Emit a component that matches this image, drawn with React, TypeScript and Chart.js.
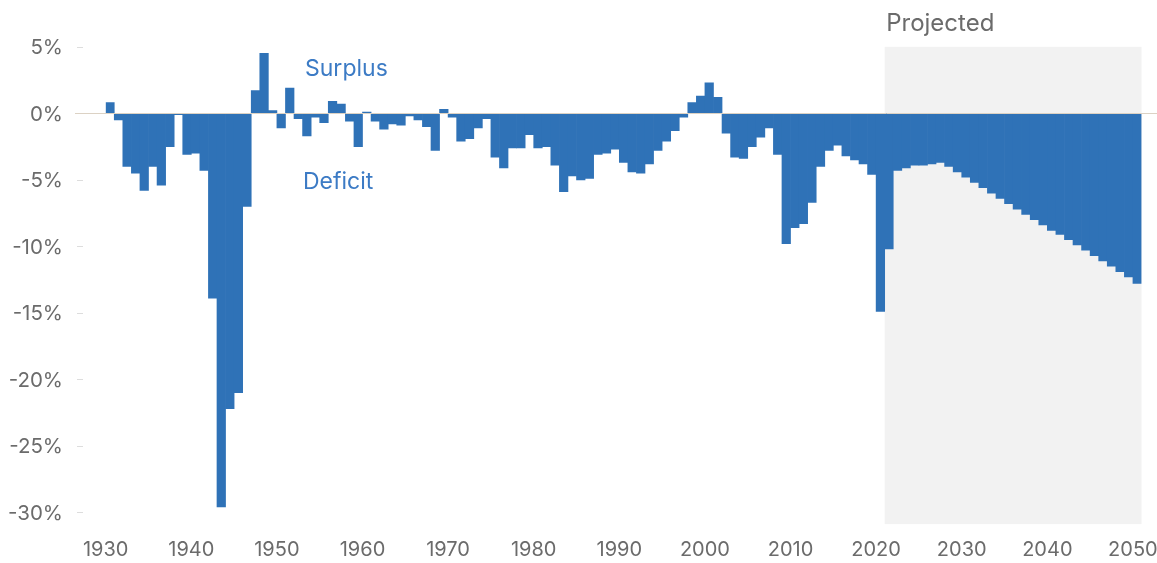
import React, { useEffect, useRef } from 'react';
import { Chart, registerables } from 'chart.js';

Chart.register(...registerables);

// Fiscal years shown as bars (1930–2050)
const firstYear = 1930;
const lastYear = 2050;
const years: number[] = [];
for (let yr = firstYear; yr <= lastYear; yr++) years.push(yr);

// Surplus (+) / deficit (-) as % of GDP, actual 1930–2020
const historical = [
  0.8, -0.5, -4.0, -4.5, -5.8, -4.0, -5.4, -2.5, -0.1, -3.1, // 1930-1939
  -3.0, -4.3, -13.9, -29.6, -22.2, -21.0, -7.0, 1.7, 4.5, 0.2, // 1940-1949
  -1.1, 1.9, -0.4, -1.7, -0.3, -0.7, 0.9, 0.7, -0.6, -2.5, // 1950-1959
  0.1, -0.6, -1.2, -0.8, -0.9, -0.2, -0.5, -1.0, -2.8, 0.3, // 1960-1969
  -0.3, -2.1, -1.9, -1.1, -0.4, -3.3, -4.1, -2.6, -2.6, -1.6, // 1970-1979
  -2.6, -2.5, -3.9, -5.9, -4.7, -5.0, -4.9, -3.1, -3.0, -2.7, // 1980-1989
  -3.7, -4.4, -4.5, -3.8, -2.8, -2.1, -1.3, -0.3, 0.8, 1.3, // 1990-1999
  2.3, 1.2, -1.5, -3.3, -3.4, -2.5, -1.8, -1.1, -3.1, -9.8, // 2000-2009
  -8.6, -8.3, -6.7, -4.0, -2.8, -2.4, -3.2, -3.5, -3.8, -4.6, // 2010-2019
  -14.9, // 2020
];

// Projected 2021–2050
const projected = [
  -10.2, -4.3, -4.1, -3.9, -3.9, -3.8, -3.7, -4.0, -4.4, // 2021-2029
  -4.8, -5.2, -5.6, -6.0, -6.4, -6.8, -7.2, -7.6, -8.0, -8.4, // 2030-2039
  -8.8, -9.1, -9.5, -9.9, -10.3, -10.7, -11.1, -11.5, -11.9, -12.3, // 2040-2049
  -12.8, // 2050
];

const projectionStartYear = 2021;
const yTickValues = [5, 0, -5, -10, -15, -20, -25, -30];
const xTickYears = [1930, 1940, 1950, 1960, 1970, 1980, 1990, 2000, 2010, 2020, 2030, 2040, 2050];

const FONT = 'Inter, "Noto Sans", Roboto, sans-serif';
const BAR_COLOR = '#2f72b7';
const LABEL_BLUE = '#3c7bc5';
const TEXT_GRAY = '#6b6b6b';

const zeroPadding = (s: any) => {
  s.paddingTop = 0;
  s.paddingBottom = 0;
  s.paddingLeft = 0;
  s.paddingRight = 0;
};

export default function App() {
  const ref = useRef<HTMLCanvasElement>(null);

  useEffect(() => {
    const canvas = ref.current;
    if (!canvas) return;
    const values = [...historical, ...projected];
    const labels = years.map(String);

    const overlay = {
      id: 'overlay',
      beforeDatasetsDraw(chart: any) {
        const { ctx, scales, chartArea } = chart;
        const x = scales.x;
        const y = scales.y;
        const step = x.getPixelForValue(1) - x.getPixelForValue(0);
        const i0 = years.indexOf(projectionStartYear);
        const left = x.getPixelForValue(i0) - step / 2;
        const right = chartArea.right;
        const top = y.getPixelForValue(5);
        const bottom = chartArea.bottom - 1.5;
        ctx.save();
        ctx.fillStyle = '#f2f2f2';
        ctx.fillRect(left, top, right - left, bottom - top);
        ctx.fillStyle = TEXT_GRAY;
        ctx.font = `24px ${FONT}`;
        ctx.textBaseline = 'middle';
        ctx.textAlign = 'left';
        ctx.fillText('Projected', left + 1.5, 24);
        ctx.strokeStyle = '#dddddd';
        ctx.lineWidth = 1;
        yTickValues.forEach((v) => {
          if (v === 0) return;
          const py = Math.round(y.getPixelForValue(v)) + 0.5;
          ctx.beginPath();
          ctx.moveTo(77, py);
          ctx.lineTo(83, py);
          ctx.stroke();
        });
        ctx.restore();
      },
      afterDatasetsDraw(chart: any) {
        const { ctx, scales, width } = chart;
        const y = scales.y;
        const py = Math.round(y.getPixelForValue(0)) + 0.5;
        ctx.save();
        ctx.strokeStyle = '#dcd2c4';
        ctx.lineWidth = 1;
        ctx.beginPath();
        ctx.moveTo(75, py);
        ctx.lineTo(width, py);
        ctx.stroke();
        ctx.fillStyle = LABEL_BLUE;
        ctx.font = `23px ${FONT}`;
        ctx.textBaseline = 'middle';
        ctx.textAlign = 'left';
        ctx.fillText('Surplus', 305, 69);
        ctx.fillText('Deficit', 303, 182);
        ctx.restore();
      },
    };

    const chart = new Chart(canvas, {
      type: 'bar',
      data: {
        labels,
        datasets: [
          {
            data: values,
            backgroundColor: BAR_COLOR,
            borderWidth: 0,
            barPercentage: 1,
            categoryPercentage: 1,
          },
        ],
      },
      options: {
        responsive: false,
        animation: false,
        devicePixelRatio: 1,
        layout: { padding: { top: 46.8, right: 15.5, left: 0, bottom: 0 } },
        plugins: { legend: { display: false }, tooltip: { enabled: false } },
        events: [],
        scales: {
          x: {
            type: 'category',
            offset: true,
            grid: { display: false, drawTicks: false, offset: true },
            border: { display: false },
            ticks: {
              autoSkip: false,
              maxRotation: 0,
              minRotation: 0,
              padding: 12,
              labelOffset: -4.3,
              color: TEXT_GRAY,
              font: { family: FONT, size: 20 },
              callback: (_v: any, i: number) =>
                xTickYears.includes(years[i]) ? String(years[i]) : '',
            },
            afterFit: (s: any) => {
              s.height = 37.4;
              zeroPadding(s);
            },
          },
          y: {
            min: -31,
            max: 5,
            grid: { display: false, drawTicks: false },
            border: { display: false },
            afterBuildTicks: (s: any) => {
              s.ticks = yTickValues.map((v) => ({ value: v }));
            },
            ticks: {
              padding: 42.7,
              labelOffset: 1.5,
              color: TEXT_GRAY,
              font: { family: FONT, size: 20.5 },
              callback: (v: any) => `${v}%`,
            },
            afterFit: (s: any) => {
              s.width = 105.7;
              zeroPadding(s);
            },
          },
        },
      },
      plugins: [overlay],
    } as any);

    return () => chart.destroy();
  }, []);

  return (
    <div style={{ position: 'fixed', left: 0, top: 0, width: 1157, height: 563, background: '#fff' }}>
      <canvas ref={ref} width={1157} height={563} style={{ display: 'block' }} />
    </div>
  );
}
